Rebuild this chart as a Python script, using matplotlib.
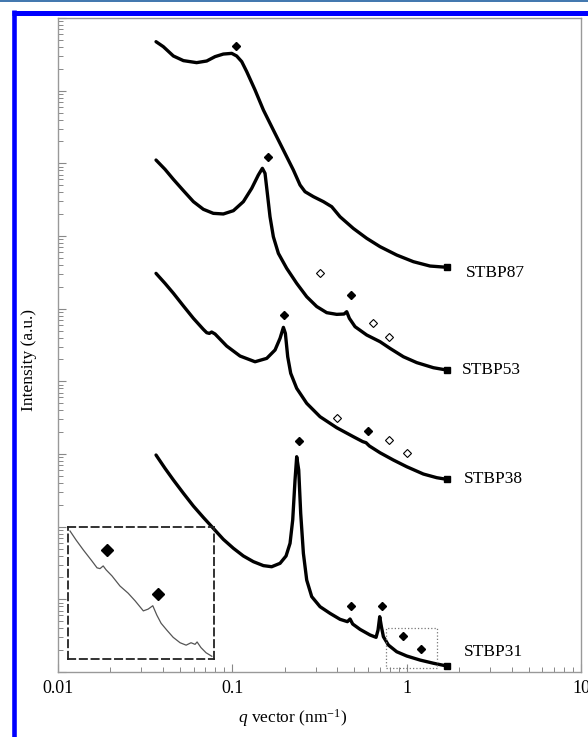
'''
SAXS profiles of the STBP samples, shifted vertically, with a zoomed inset
'''

import matplotlib
matplotlib.use('Agg')
import matplotlib.pyplot as plt
from matplotlib.lines import Line2D
import numpy as np

plt.rcParams['font.family'] = 'serif'
plt.rcParams['font.serif'] = ['Liberation Serif', 'DejaVu Serif']
plt.rcParams['mathtext.fontset'] = 'custom'
plt.rcParams['mathtext.rm'] = 'Liberation Serif'
plt.rcParams['mathtext.it'] = 'Liberation Serif:italic'

# scattering curves (q in nm^-1, intensity in a.u., shifted)
q87 = [0.0365, 0.0402, 0.0459, 0.0524, 0.0624, 0.0713, 0.0796, 0.0888, 0.0992,
       0.1059, 0.1132, 0.1209, 0.1350, 0.1507, 0.1719, 0.1963, 0.2239, 0.2446,
       0.2612, 0.2917, 0.3329, 0.3716, 0.4148, 0.4946, 0.5900, 0.7037, 0.8769,
       1.093, 1.362, 1.698]
I87 = [4.72e8, 4.03e8, 3.00e8, 2.59e8, 2.43e8, 2.56e8, 2.94e8, 3.19e8, 3.26e8,
       3.00e8, 2.51e8, 1.83e8, 1.02e8, 5.42e7, 2.87e7, 1.52e7, 8.09e6, 5.03e6,
       4.07e6, 3.48e6, 2.97e6, 2.53e6, 1.84e6, 1.27e6, 9.29e5, 7.13e5, 5.47e5,
       4.43e5, 3.86e5, 3.71e5]

q53 = [0.0365, 0.0411, 0.0459, 0.0524, 0.0598, 0.0682, 0.0778, 0.0888, 0.1014,
       0.1157, 0.1292, 0.1410, 0.1487, 0.1540, 0.1588, 0.1645, 0.1719, 0.1837,
       0.2050, 0.2340, 0.2671, 0.3048, 0.3478, 0.3969, 0.4373, 0.4530, 0.4692,
       0.5057, 0.5900, 0.7037, 0.8029, 0.9577, 1.142, 1.423, 1.698]
I53 = [1.11e7, 8.27e6, 6.02e6, 4.21e6, 2.97e6, 2.33e6, 2.05e6, 2.01e6, 2.23e6,
       2.97e6, 4.53e6, 6.91e6, 8.54e6, 7.28e6, 3.86e6, 1.84e6, 9.77e5, 5.77e5,
       3.59e5, 2.23e5, 1.46e5, 1.07e5, 8.81e4, 8.35e4, 8.44e4, 9.08e4, 7.36e4,
       5.65e4, 4.34e4, 3.51e4, 2.84e4, 2.18e4, 1.81e4, 1.54e4, 1.43e4]

q38 = [0.0365, 0.0411, 0.0459, 0.0524, 0.0598, 0.0682, 0.0713, 0.0738, 0.0761,
       0.0796, 0.0928, 0.1107, 0.1350, 0.1575, 0.1758, 0.1878, 0.1963, 0.2015,
       0.2078, 0.2162, 0.2340, 0.2671, 0.3185, 0.3969, 0.4946, 0.5597, 0.5848,
       0.6111, 0.7037, 0.8390, 1.001, 1.247, 1.488, 1.698]
I38 = [3.06e5, 2.23e5, 1.63e5, 1.09e5, 7.36e4, 5.19e4, 4.67e4, 4.57e4, 4.77e4,
       4.48e4, 3.06e4, 2.23e4, 1.86e4, 2.07e4, 2.70e4, 3.91e4, 5.53e4, 4.57e4,
       2.18e4, 1.29e4, 8.01e3, 4.98e3, 3.26e3, 2.30e3, 1.73e3, 1.48e3, 1.43e3,
       1.29e3, 1.04e3, 826, 668, 530, 472, 448]

q31 = [0.0365, 0.0411, 0.0459, 0.0524, 0.0598, 0.0682, 0.0778, 0.0888, 0.1014,
       0.1157, 0.1320, 0.1507, 0.1681, 0.1878, 0.2033, 0.2143, 0.2220, 0.2289,
       0.2340, 0.2403, 0.2467, 0.2556, 0.2671, 0.2853, 0.3185, 0.3635, 0.4148,
       0.4571, 0.4735, 0.4903, 0.5403, 0.6166, 0.6675, 0.6852, 0.7006, 0.7162,
       0.7354, 0.7855, 0.8769, 1.001, 1.193, 1.423, 1.698]
I31 = [968, 635, 439, 288, 192, 134, 94.8, 66.9, 50.4,
       39.5, 33.0, 29.1, 28.1, 31.3, 39.5, 59.0, 124, 439,
       918, 603, 152, 43.0, 18.4, 10.9, 7.92, 6.41, 5.31,
       4.93, 5.36, 4.57, 3.86, 3.23, 3.00, 3.78, 5.77, 4.21,
       3.06, 2.35, 1.90, 1.66, 1.46, 1.32, 1.21]

names = ['STBP87', 'STBP53', 'STBP38', 'STBP31']

# reflection markers: filled = indexed, open = other
filled_q = [[0.105], [0.1596, 0.478], [0.1988, 0.6006],
            [0.2404, 0.478, 0.72, 0.957, 1.202]]
filled_I = [[4.11e8], [1.23e7, 1.54e5], [8.18e4, 2.07e3],
            [1.52e3, 8.22, 8.22, 3.08, 2.07]]
open_q = [[], [0.3185, 0.639, 0.796], [0.4004, 0.796, 1.001], []]
open_I = [[], [3.06e5, 6.29e4, 4.11e4], [3.10e3, 1.56e3, 1.04e3], []]

# zoomed region of STBP31 (dotted box) and its inset curve
zoom_q = (0.762, 1.494)
zoom_I = (1.135, 4.03)
qz = [0.768, 0.790, 0.817, 0.850, 0.870, 0.882, 0.895, 0.907, 0.932, 0.967,
      1.004, 1.037, 1.077, 1.101, 1.125, 1.146, 1.169, 1.200, 1.236, 1.276,
      1.312, 1.342, 1.367, 1.380, 1.405, 1.438, 1.477]
Iz = [3.84, 3.52, 3.20, 2.88, 2.70, 2.68, 2.75, 2.65, 2.50, 2.27,
      2.12, 1.97, 1.79, 1.82, 1.88, 1.72, 1.59, 1.49, 1.39, 1.32,
      1.29, 1.32, 1.30, 1.33, 1.26, 1.20, 1.16]
inset_mq = [0.910, 1.154]
inset_mI = [3.20, 2.10]

fig = plt.figure(figsize=(5.88, 7.37), dpi=100)
ax = fig.add_axes([58/588, 65/737, 523/588, 654/737])

curves = [(q87, I87), (q53, I53), (q38, I38), (q31, I31)]
offsets = [(14, -4), (11, 0), (12, 0), (12, 10)]
for k, (q, I) in enumerate(curves):
    ax.plot(q, I, '-', color='k', lw=2.4, solid_joinstyle='round',
            solid_capstyle='round')
    ax.plot(q[-1], I[-1], 's', color='k', markersize=4.5)
    ax.plot(filled_q[k], filled_I[k], 'D', color='k', markersize=4)
    if open_q[k]:
        ax.plot(open_q[k], open_I[k], 'D', mfc='white', mec='k',
                mew=0.8, markersize=4.5)
    ax.annotate(names[k], (q[-1], I[-1]), xytext=offsets[k],
                textcoords='offset points', ha='left', va='center',
                fontsize=12.5)

# dotted box marking the zoomed region
ax.plot([zoom_q[0], zoom_q[1], zoom_q[1], zoom_q[0], zoom_q[0]],
        [zoom_I[0], zoom_I[0], zoom_I[1], zoom_I[1], zoom_I[0]],
        ls=':', color='#777777', lw=0.9)

ax.set_xscale('log')
ax.set_yscale('log')
ax.set_xlim(0.01, 10)
ax.set_ylim(1, 1e9)
ax.set_xticks([0.01, 0.1, 1, 10])
ax.set_xticklabels(['0.01', '0.1', '1', '10'])
ax.yaxis.set_major_locator(matplotlib.ticker.LogLocator(base=10, numticks=20))
ax.yaxis.set_minor_locator(matplotlib.ticker.LogLocator(
    base=10, subs=np.arange(2, 10), numticks=20))
ax.yaxis.set_minor_formatter(matplotlib.ticker.NullFormatter())
ax.yaxis.set_major_formatter(matplotlib.ticker.NullFormatter())
ax.tick_params(which='both', direction='in', color='#888888',
               top=False, right=False)
ax.tick_params(which='major', length=5.5, width=0.8, labelsize=13, pad=6)
ax.tick_params(which='minor', length=3.5, width=0.7)
for sp in ax.spines.values():
    sp.set_color('#999999')
    sp.set_linewidth(1.0)

fig.text(293/588, 1 - 718/737, r'$q$ vector (nm$^{\mathregular{-1}}$)',
         ha='center', va='center', fontsize=12.5)
fig.text(29/588, 1 - 360/737, 'Intensity (a.u.)', rotation=90,
         ha='center', va='center', fontsize=12.5)

# inset: magnified tail of STBP31
ins = fig.add_axes([68.3/588, 1 - 659.3/737, 146/588, 132.6/737])
ins.set_facecolor('none')
ins.plot(qz, Iz, '-', color='#555555', lw=0.9)
ins.plot(inset_mq, inset_mI, 'D', color='k', markersize=6)
ins.set_xscale('log')
ins.set_yscale('log')
ins.set_xlim(zoom_q[0], zoom_q[1])
ins.set_ylim(1.127, 4.0)
ins.set_xticks([])
ins.set_yticks([])
ins.minorticks_off()
for sp in ins.spines.values():
    sp.set_linestyle((0, (4, 2.5)))
    sp.set_linewidth(1.3)
    sp.set_color('#222222')

# blue frame around the figure
fig.add_artist(Line2D([0, 1], [1 - 0.8/737, 1 - 0.8/737], color='#1f5f9f',
                      lw=1.2, transform=fig.transFigure))
fig.add_artist(Line2D([12/588, 1], [1 - 12.5/737, 1 - 12.5/737],
                      color='#0000ff', lw=3.6, transform=fig.transFigure,
                      solid_capstyle='butt'))
fig.add_artist(Line2D([14.2/588, 14.2/588], [0, 1 - 10/737],
                      color='#0000ff', lw=3.3, transform=fig.transFigure,
                      solid_capstyle='butt'))

fig.savefig('out.png', dpi=100)
